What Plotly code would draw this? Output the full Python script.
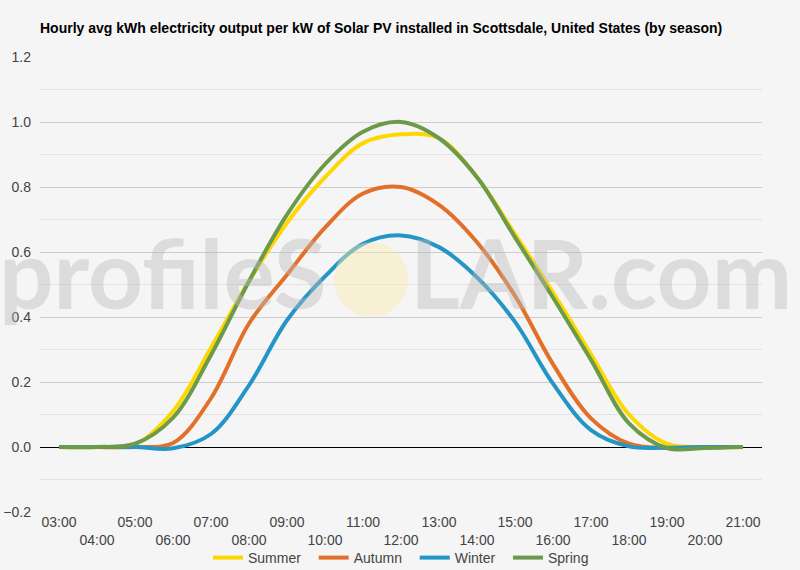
import plotly.graph_objects as go

hours = ["03:00", "04:00", "05:00", "06:00", "07:00", "08:00", "09:00", "10:00", "11:00", "12:00",
         "13:00", "14:00", "15:00", "16:00", "17:00", "18:00", "19:00", "20:00", "21:00"]

summer = [0, 0, 0.008, 0.11, 0.305, 0.51, 0.69, 0.83, 0.935, 0.962,
          0.95, 0.83, 0.655, 0.475, 0.285, 0.1, 0.01, 0, 0]
autumn = [0, 0, 0, 0.012, 0.15, 0.38, 0.53, 0.675, 0.78, 0.80,
          0.745, 0.63, 0.465, 0.255, 0.088, 0.01, -0.003, 0, 0]
winter = [0, 0, 0, -0.004, 0.04, 0.19, 0.39, 0.525, 0.625, 0.651,
          0.615, 0.522, 0.385, 0.195, 0.052, 0.002, -0.002, 0, 0]
spring = [0, 0, 0.01, 0.09, 0.283, 0.51, 0.715, 0.87, 0.97, 1.0,
          0.95, 0.83, 0.645, 0.46, 0.268, 0.073, -0.003, -0.003, 0]

seasons = ["Summer", "Autumn", "Winter", "Spring"]
colors = ["#FFD700", "#E3702A", "#2496C6", "#6C9A4B"]

# staggered x labels like the original (every other one on a second row)
tick_text = [h if i % 2 == 0 else "<br>" + h for i, h in enumerate(hours)]

fig = go.Figure()

for i, (name, vals, col) in enumerate(zip(seasons, [summer, autumn, winter, spring], colors)):
    # a bit of extra room between legend entries
    label = name + ("\u00a0\u00a0" if i < len(seasons) - 1 else "")
    fig.add_trace(go.Scatter(x=hours, y=vals, name=label, mode="lines",
                             line=dict(color=col, width=4, shape="spline", smoothing=1)))

# watermark
wm_font = dict(family="Lato", size=96, color="rgba(185,185,185,0.42)", weight="bold")
fig.add_annotation(text="profileS", xref="paper", yref="paper", x=0.399, y=0.528,
                   xanchor="right", yanchor="middle", showarrow=False, font=wm_font)
fig.add_annotation(text="LAR.com", xref="paper", yref="paper", x=0.51, y=0.528,
                   xanchor="left", yanchor="middle", showarrow=False, font=wm_font)
fig.add_shape(type="circle", xref="paper", yref="paper", x0=0.407, x1=0.51, y0=0.429, y1=0.593,
              line=dict(width=0), fillcolor="rgba(250,236,175,0.45)", layer="above")

fig.update_layout(
    width=800, height=570,
    margin=dict(l=40, r=38, t=57, b=58, autoexpand=False),
    paper_bgcolor="#F5F5F5", plot_bgcolor="#F5F5F5",
    font=dict(family="Liberation Sans, Arial", size=14, color="#444"),
    title=dict(text="<b>Hourly avg kWh electricity output per kW of Solar PV installed in Scottsdale, United States (by season)</b>",
               x=0.05, xanchor="left", y=1 - 28 / 570, yanchor="middle",
               font=dict(family="Liberation Sans, Arial", size=14, color="#000")),
    legend=dict(orientation="h", x=0.5, xanchor="center", yref="container", y=1 - 558 / 570, yanchor="middle",
                bgcolor="rgba(0,0,0,0)", font=dict(size=14, color="#444"),
                itemwidth=30, tracegroupgap=0),
    showlegend=True,
)

fig.update_xaxes(type="category", range=[-0.5, len(hours) - 0.5], tickmode="array",
                 tickvals=hours, ticktext=tick_text, automargin=False,
                 tickangle=0, showgrid=False, showline=False, ticks="",
                 tickfont=dict(size=14, color="#444"))
fig.update_yaxes(range=[-0.2, 1.2], tick0=0, dtick=0.2, tickformat=".1f", automargin=False,
                 gridcolor="#CCCCCC", gridwidth=1,
                 minor=dict(dtick=0.1, showgrid=True, gridcolor="#E3E3E3"),
                 zeroline=True, zerolinecolor="#000", zerolinewidth=1,
                 showline=False, ticks="", ticklabelstandoff=8,
                 tickfont=dict(size=14, color="#444"))

fig.write_html("out.html", config={"displayModeBar": False},
               post_script="document.body.style.margin='0';")
